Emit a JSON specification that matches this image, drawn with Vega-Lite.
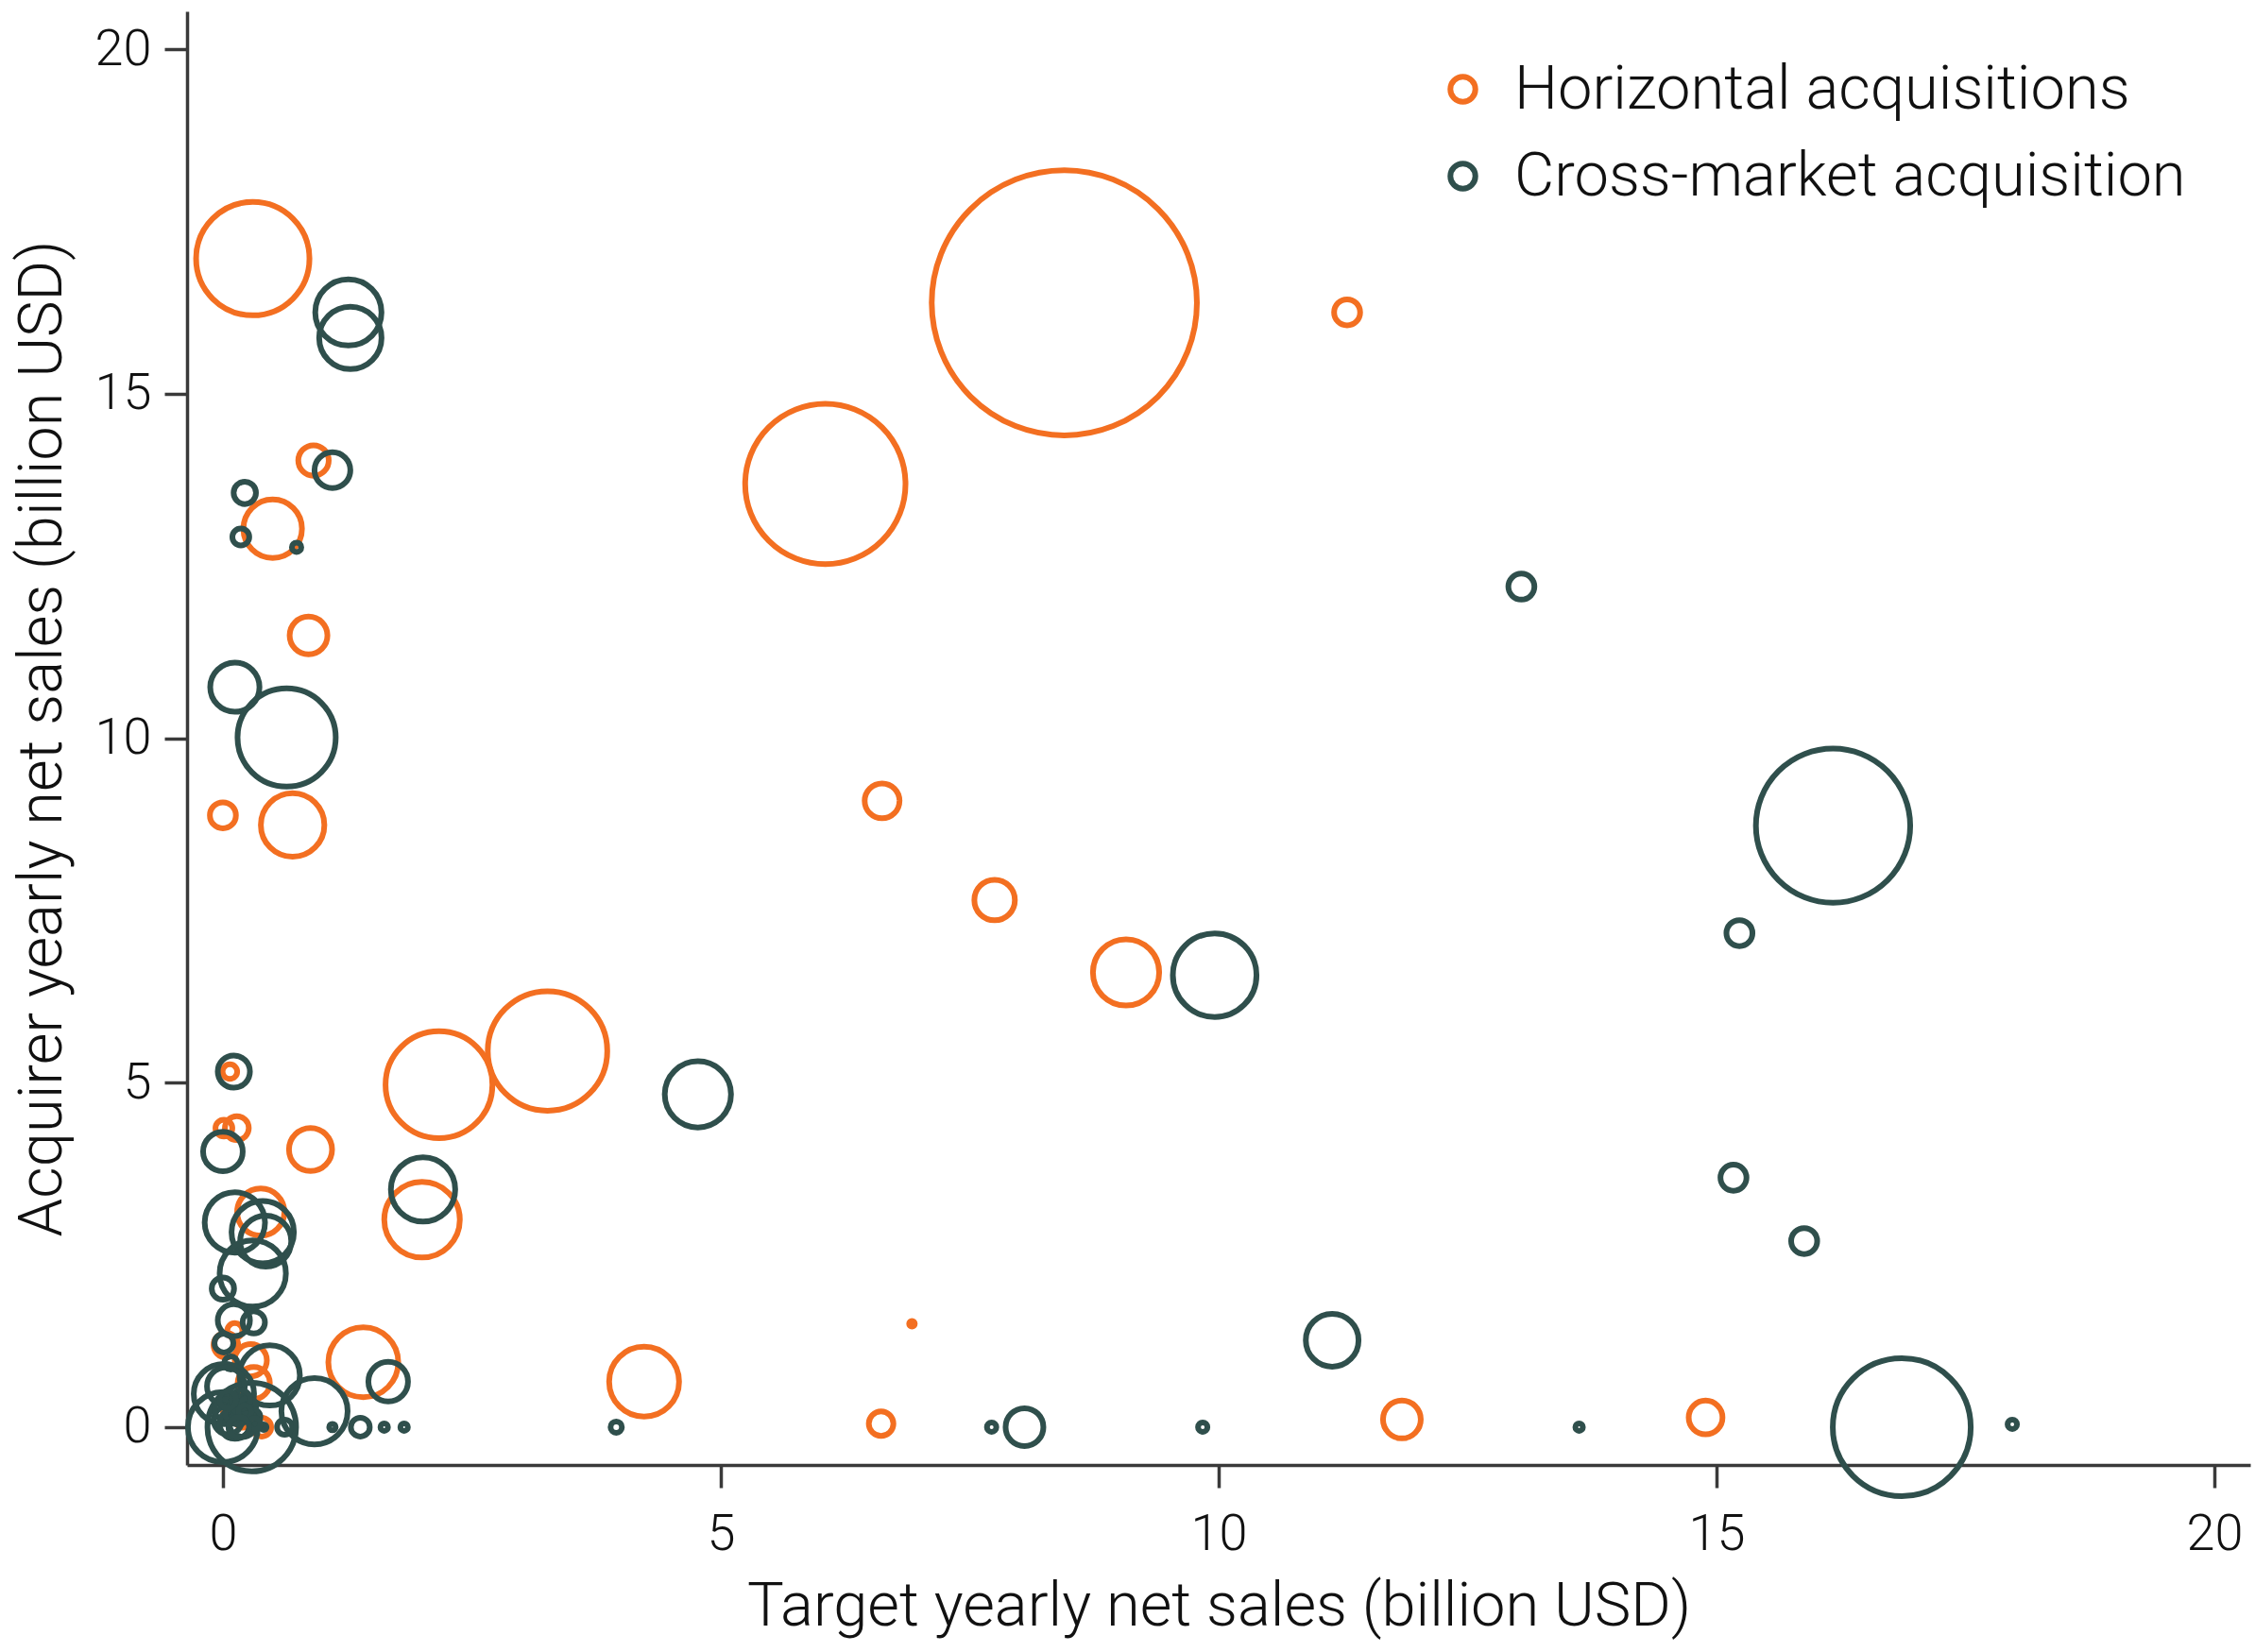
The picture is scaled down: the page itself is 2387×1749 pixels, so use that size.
{
  "$schema": "https://vega.github.io/schema/vega-lite/v6.json",
  "width": 2184,
  "height": 1539,
  "autosize": "none",
  "padding": {"left": 198, "top": 12, "right": 5, "bottom": 198},
  "background": "white",
  "data": {
    "values": [
      {"type": "Horizontal acquisitions", "target": 0.30, "acquirer": 16.96, "weight": 36},
      {"type": "Horizontal acquisitions", "target": 8.45, "acquirer": 16.32, "weight": 197},
      {"type": "Horizontal acquisitions", "target": 11.29, "acquirer": 16.18, "weight": 1.9},
      {"type": "Horizontal acquisitions", "target": 6.05, "acquirer": 13.69, "weight": 72},
      {"type": "Horizontal acquisitions", "target": 0.91, "acquirer": 14.03, "weight": 2.6},
      {"type": "Horizontal acquisitions", "target": 0.50, "acquirer": 13.04, "weight": 9.6},
      {"type": "Horizontal acquisitions", "target": 0.86, "acquirer": 11.49, "weight": 4},
      {"type": "Horizontal acquisitions", "target": 0.0, "acquirer": 8.88, "weight": 1.9},
      {"type": "Horizontal acquisitions", "target": 0.70, "acquirer": 8.74, "weight": 11.3},
      {"type": "Horizontal acquisitions", "target": 6.62, "acquirer": 9.09, "weight": 3.4},
      {"type": "Horizontal acquisitions", "target": 7.75, "acquirer": 7.65, "weight": 4.6},
      {"type": "Horizontal acquisitions", "target": 9.07, "acquirer": 6.60, "weight": 12.3},
      {"type": "Horizontal acquisitions", "target": 3.26, "acquirer": 5.46, "weight": 40},
      {"type": "Horizontal acquisitions", "target": 2.17, "acquirer": 4.97, "weight": 32},
      {"type": "Horizontal acquisitions", "target": 0.88, "acquirer": 4.03, "weight": 5.2},
      {"type": "Horizontal acquisitions", "target": 0.07, "acquirer": 5.16, "weight": 0.6},
      {"type": "Horizontal acquisitions", "target": 0.01, "acquirer": 4.34, "weight": 0.8},
      {"type": "Horizontal acquisitions", "target": 0.14, "acquirer": 4.34, "weight": 1.6},
      {"type": "Horizontal acquisitions", "target": 2.0, "acquirer": 3.01, "weight": 16},
      {"type": "Horizontal acquisitions", "target": 0.38, "acquirer": 3.12, "weight": 6.25},
      {"type": "Horizontal acquisitions", "target": 1.41, "acquirer": 0.94, "weight": 13.7},
      {"type": "Horizontal acquisitions", "target": 4.23, "acquirer": 0.66, "weight": 13.7},
      {"type": "Horizontal acquisitions", "target": 6.61, "acquirer": 0.05, "weight": 1.7},
      {"type": "Horizontal acquisitions", "target": 11.84, "acquirer": 0.11, "weight": 4},
      {"type": "Horizontal acquisitions", "target": 14.89, "acquirer": 0.14, "weight": 3.2},
      {"type": "Horizontal acquisitions", "target": 6.92, "acquirer": 1.5, "weight": 0.09},
      {"type": "Horizontal acquisitions", "target": 0.12, "acquirer": 1.40, "weight": 0.64},
      {"type": "Horizontal acquisitions", "target": 0.03, "acquirer": 1.19, "weight": 1.7},
      {"type": "Horizontal acquisitions", "target": 0.28, "acquirer": 0.97, "weight": 2.9},
      {"type": "Horizontal acquisitions", "target": 0.31, "acquirer": 0.64, "weight": 2.9},
      {"type": "Horizontal acquisitions", "target": 0.39, "acquirer": 0.0, "weight": 1.0},
      {"type": "Horizontal acquisitions", "target": 0.10, "acquirer": 0.30, "weight": 1.4},
      {"type": "Horizontal acquisitions", "target": 0.20, "acquirer": 0.10, "weight": 0.64},
      {"type": "Cross-market acquisition", "target": 1.26, "acquirer": 16.18, "weight": 12.3},
      {"type": "Cross-market acquisition", "target": 1.28, "acquirer": 15.81, "weight": 10.9},
      {"type": "Cross-market acquisition", "target": 0.22, "acquirer": 13.56, "weight": 1.4},
      {"type": "Cross-market acquisition", "target": 1.10, "acquirer": 13.89, "weight": 3.6},
      {"type": "Cross-market acquisition", "target": 0.18, "acquirer": 12.92, "weight": 0.8},
      {"type": "Cross-market acquisition", "target": 0.74, "acquirer": 12.77, "weight": 0.25},
      {"type": "Cross-market acquisition", "target": 13.04, "acquirer": 12.2, "weight": 1.9},
      {"type": "Cross-market acquisition", "target": 0.12, "acquirer": 10.74, "weight": 6.8},
      {"type": "Cross-market acquisition", "target": 0.64, "acquirer": 10.01, "weight": 27},
      {"type": "Cross-market acquisition", "target": 16.17, "acquirer": 8.73, "weight": 66.7},
      {"type": "Cross-market acquisition", "target": 15.23, "acquirer": 7.17, "weight": 1.9},
      {"type": "Cross-market acquisition", "target": 9.96, "acquirer": 6.56, "weight": 19.6},
      {"type": "Cross-market acquisition", "target": 4.77, "acquirer": 4.83, "weight": 12.3},
      {"type": "Cross-market acquisition", "target": 0.11, "acquirer": 5.16, "weight": 2.9},
      {"type": "Cross-market acquisition", "target": 0.0, "acquirer": 4.0, "weight": 4.4},
      {"type": "Cross-market acquisition", "target": 2.01, "acquirer": 3.45, "weight": 11.6},
      {"type": "Cross-market acquisition", "target": 15.17, "acquirer": 3.62, "weight": 1.9},
      {"type": "Cross-market acquisition", "target": 15.88, "acquirer": 2.70, "weight": 1.9},
      {"type": "Cross-market acquisition", "target": 11.14, "acquirer": 1.26, "weight": 7.8},
      {"type": "Cross-market acquisition", "target": 0.12, "acquirer": 2.97, "weight": 10.2},
      {"type": "Cross-market acquisition", "target": 0.40, "acquirer": 2.83, "weight": 10.9},
      {"type": "Cross-market acquisition", "target": 0.43, "acquirer": 2.70, "weight": 7.3},
      {"type": "Cross-market acquisition", "target": 0.30, "acquirer": 2.23, "weight": 12.3},
      {"type": "Cross-market acquisition", "target": 0.0, "acquirer": 2.01, "weight": 1.4},
      {"type": "Cross-market acquisition", "target": 0.11, "acquirer": 1.55, "weight": 2.9},
      {"type": "Cross-market acquisition", "target": 0.31, "acquirer": 1.52, "weight": 1.4},
      {"type": "Cross-market acquisition", "target": 0.01, "acquirer": 1.22, "weight": 1.0},
      {"type": "Cross-market acquisition", "target": 0.08, "acquirer": 0.93, "weight": 0.5},
      {"type": "Cross-market acquisition", "target": 0.47, "acquirer": 0.75, "weight": 10.2},
      {"type": "Cross-market acquisition", "target": 1.66, "acquirer": 0.66, "weight": 4.4},
      {"type": "Cross-market acquisition", "target": 0.92, "acquirer": 0.23, "weight": 12.3},
      {"type": "Cross-market acquisition", "target": 1.38, "acquirer": 0.0, "weight": 1.0},
      {"type": "Cross-market acquisition", "target": 0.62, "acquirer": 0.0, "weight": 0.64},
      {"type": "Cross-market acquisition", "target": 0.41, "acquirer": 0.0, "weight": 0.09},
      {"type": "Cross-market acquisition", "target": 0.0, "acquirer": 0.0, "weight": 13.7},
      {"type": "Cross-market acquisition", "target": 0.29, "acquirer": 0.0, "weight": 22},
      {"type": "Cross-market acquisition", "target": 0.01, "acquirer": 0.48, "weight": 10.2},
      {"type": "Cross-market acquisition", "target": 0.03, "acquirer": 0.59, "weight": 4},
      {"type": "Cross-market acquisition", "target": 1.10, "acquirer": 0.0, "weight": 0.12},
      {"type": "Cross-market acquisition", "target": 1.62, "acquirer": 0.0, "weight": 0.16},
      {"type": "Cross-market acquisition", "target": 1.82, "acquirer": 0.0, "weight": 0.16},
      {"type": "Cross-market acquisition", "target": 3.95, "acquirer": 0.0, "weight": 0.36},
      {"type": "Cross-market acquisition", "target": 7.72, "acquirer": 0.0, "weight": 0.25},
      {"type": "Cross-market acquisition", "target": 8.05, "acquirer": 0.0, "weight": 4},
      {"type": "Cross-market acquisition", "target": 9.84, "acquirer": 0.0, "weight": 0.25},
      {"type": "Cross-market acquisition", "target": 13.62, "acquirer": 0.0, "weight": 0.16},
      {"type": "Cross-market acquisition", "target": 16.86, "acquirer": 0.0, "weight": 53.3},
      {"type": "Cross-market acquisition", "target": 17.97, "acquirer": 0.04, "weight": 0.25},
      {"type": "Cross-market acquisition", "target": 0.05, "acquirer": 0.10, "weight": 2.25},
      {"type": "Cross-market acquisition", "target": 0.15, "acquirer": 0.20, "weight": 1.4},
      {"type": "Cross-market acquisition", "target": 0.10, "acquirer": 0.35, "weight": 1.0},
      {"type": "Cross-market acquisition", "target": 0.20, "acquirer": 0.05, "weight": 2.0},
      {"type": "Cross-market acquisition", "target": 0.25, "acquirer": 0.30, "weight": 0.8},
      {"type": "Cross-market acquisition", "target": 0.02, "acquirer": 0.25, "weight": 1.2},
      {"type": "Cross-market acquisition", "target": 0.30, "acquirer": 0.15, "weight": 0.64},
      {"type": "Cross-market acquisition", "target": 0.12, "acquirer": 0.05, "weight": 2.6},
      {"type": "Cross-market acquisition", "target": 0.18, "acquirer": 0.40, "weight": 1.0},
      {"type": "Cross-market acquisition", "target": 0.08, "acquirer": 0.18, "weight": 0.36},
      {"type": "Cross-market acquisition", "target": 0.22, "acquirer": 0.22, "weight": 0.5},
      {"type": "Cross-market acquisition", "target": 0.32, "acquirer": 0.05, "weight": 0.36},
      {"type": "Cross-market acquisition", "target": 0.05, "acquirer": 0.40, "weight": 0.8},
      {"type": "Cross-market acquisition", "target": 0.16, "acquirer": 0.0, "weight": 1.2}
    ]
  },
  "mark": {"type": "point", "shape": "circle", "filled": false, "strokeWidth": 6, "opacity": 1},
  "encoding": {
    "x": {
      "field": "target",
      "type": "quantitative",
      "title": "Target yearly net sales (billion USD)",
      "scale": {"domain": [-0.36, 20.36], "nice": false, "zero": false},
      "axis": {"values": [0, 5, 10, 15, 20], "labelPadding": 22, "titlePadding": 18}
    },
    "y": {
      "field": "acquirer",
      "type": "quantitative",
      "title": "Acquirer yearly net sales (billion USD)",
      "scale": {"domain": [-0.55, 20.55], "nice": false, "zero": false},
      "axis": {"values": [0, 5, 10, 15, 20], "labelPadding": 14, "titlePadding": 22}
    },
    "color": {
      "field": "type",
      "type": "nominal",
      "scale": {
        "domain": ["Horizontal acquisitions", "Cross-market acquisition"],
        "range": ["#F36F21", "#2F4F4C"]
      },
      "legend": {
        "title": null,
        "orient": "none",
        "legendX": 1318,
        "legendY": 50,
        "symbolType": "circle",
        "symbolSize": 700,
        "symbolStrokeWidth": 6,
        "symbolFillColor": "transparent",
        "labelFontSize": 65,
        "labelFont": "Roboto",
        "labelFontWeight": 300,
        "labelColor": "#111111",
        "labelOffset": 22,
        "labelLimit": 1000,
        "rowPadding": 26,
        "padding": 0
      }
    },
    "size": {
      "field": "weight",
      "type": "quantitative",
      "scale": {"type": "linear", "domain": [0, 200], "range": [0, 80000], "zero": true},
      "legend": null
    }
  },
  "config": {
    "view": {"stroke": null},
    "font": "Roboto",
    "axis": {
      "grid": false,
      "domainColor": "#3a3a3a",
      "domainWidth": 3.5,
      "tickColor": "#3a3a3a",
      "tickWidth": 3.5,
      "tickSize": 24,
      "labelFont": "Roboto",
      "labelFontSize": 54,
      "labelFontWeight": 300,
      "labelColor": "#111111",
      "titleFont": "Roboto",
      "titleFontSize": 65,
      "titleFontWeight": 300,
      "titleColor": "#111111"
    },
    "axisY": {"labelAngle": 0}
  }
}
